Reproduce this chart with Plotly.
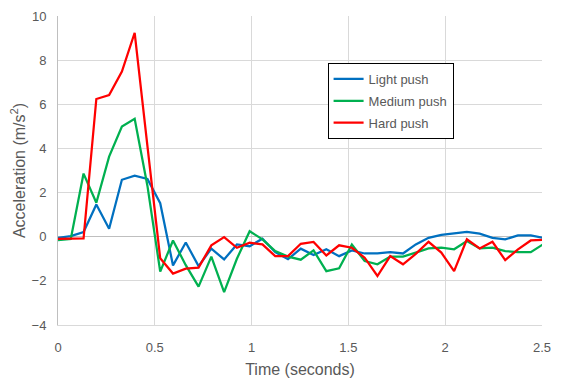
import plotly.graph_objects as go

time_s = [0.000, 0.066, 0.132, 0.198, 0.264, 0.330, 0.396, 0.462, 0.528, 0.594,
          0.660, 0.726, 0.792, 0.858, 0.924, 0.990, 1.056, 1.122, 1.188, 1.254,
          1.320, 1.386, 1.452, 1.518, 1.584, 1.650, 1.716, 1.782, 1.848, 1.914,
          1.980, 2.046, 2.112, 2.178, 2.244, 2.310, 2.376, 2.442, 2.508]

light_push = [-0.05, 0.03, 0.21, 1.46, 0.36, 2.58, 2.77, 2.62, 1.52, -1.30,
              -0.26, -1.33, -0.54, -1.03, -0.35, -0.43, -0.09, -0.70, -1.02, -0.54,
              -0.83, -0.57, -0.88, -0.62, -0.76, -0.76, -0.70, -0.76, -0.35, -0.05,
              0.08, 0.15, 0.22, 0.14, -0.05, -0.12, 0.06, 0.06, -0.06]

medium_push = [-0.15, -0.10, 2.86, 1.54, 3.63, 4.99, 5.34, 2.30, -1.58, -0.17,
               -1.29, -2.26, -0.90, -2.51, -1.00, 0.25, -0.12, -0.65, -0.90, -1.04,
               -0.62, -1.56, -1.43, -0.35, -1.10, -1.25, -0.90, -0.90, -0.72, -0.53,
               -0.50, -0.57, -0.20, -0.53, -0.50, -0.65, -0.70, -0.70, -0.33]

hard_push = [-0.10, -0.08, -0.08, 6.24, 6.42, 7.48, 9.24, 4.10, -0.98, -1.67,
             -1.45, -1.40, -0.39, -0.02, -0.50, -0.27, -0.35, -0.88, -0.88, -0.32,
             -0.24, -0.85, -0.39, -0.50, -0.95, -1.78, -0.88, -1.25, -0.78, -0.23,
             -0.72, -1.56, -0.12, -0.53, -0.23, -1.06, -0.57, -0.17, -0.14]

series_names = ["Light push", "Medium push", "Hard push"]
series_values = [light_push, medium_push, hard_push]
series_colors = ["#0070C0", "#00B050", "#FF0000"]

x_ticks = [0, 0.5, 1, 1.5, 2, 2.5]
x_tick_labels = ["0", "0.5", "1", "1.5", "2", "2.5"]
y_ticks = [-4, -2, 0, 2, 4, 6, 8, 10]

font_family = "Liberation Sans, Arial, sans-serif"
text_color = "#595959"

fig = go.Figure()
for name, vals, col in zip(series_names, series_values, series_colors):
    fig.add_trace(go.Scatter(
        x=time_s, y=vals, mode="lines", name=name, legendgroup=name,
        line=dict(color=col, width=2.25),
    ))

fig.update_layout(
    width=554, height=377,
    margin=dict(l=50, r=20, t=8, b=60),
    paper_bgcolor="white", plot_bgcolor="white",
    font=dict(family=font_family, color=text_color, size=13),
    showlegend=True,
    legend=dict(
        x=0.557, y=0.848, xanchor="left", yanchor="top",
        bgcolor="white", bordercolor="black", borderwidth=1,
        font=dict(size=13, color=text_color),
        itemwidth=30, tracegroupgap=2,
    ),
    xaxis=dict(
        range=[0, 2.5], tickvals=x_ticks, ticktext=x_tick_labels,
        showgrid=True, gridcolor="#d9d9d9", gridwidth=1,
        zeroline=False, showline=True, linecolor="#d9d9d9",
        ticks="", ticklabelstandoff=10, tickfont=dict(size=13, color=text_color),
        title=dict(text="Time (seconds)", font=dict(size=16, color=text_color), standoff=10),
        automargin=False, fixedrange=True,
    ),
    yaxis=dict(
        range=[-4, 10], tickvals=y_ticks,
        showgrid=True, gridcolor="#d9d9d9", gridwidth=1,
        zeroline=True, zerolinecolor="#bfbfbf", zerolinewidth=1,
        showline=True, linecolor="#bfbfbf", mirror=False,
        ticks="", ticklabelstandoff=8, tickfont=dict(size=13, color=text_color),
        title=dict(text="Acceleration (m/s<sup>2</sup>)", font=dict(size=16, color=text_color), standoff=8),
        automargin=False, fixedrange=True,
    ),
)

fig.write_html("out.html")
